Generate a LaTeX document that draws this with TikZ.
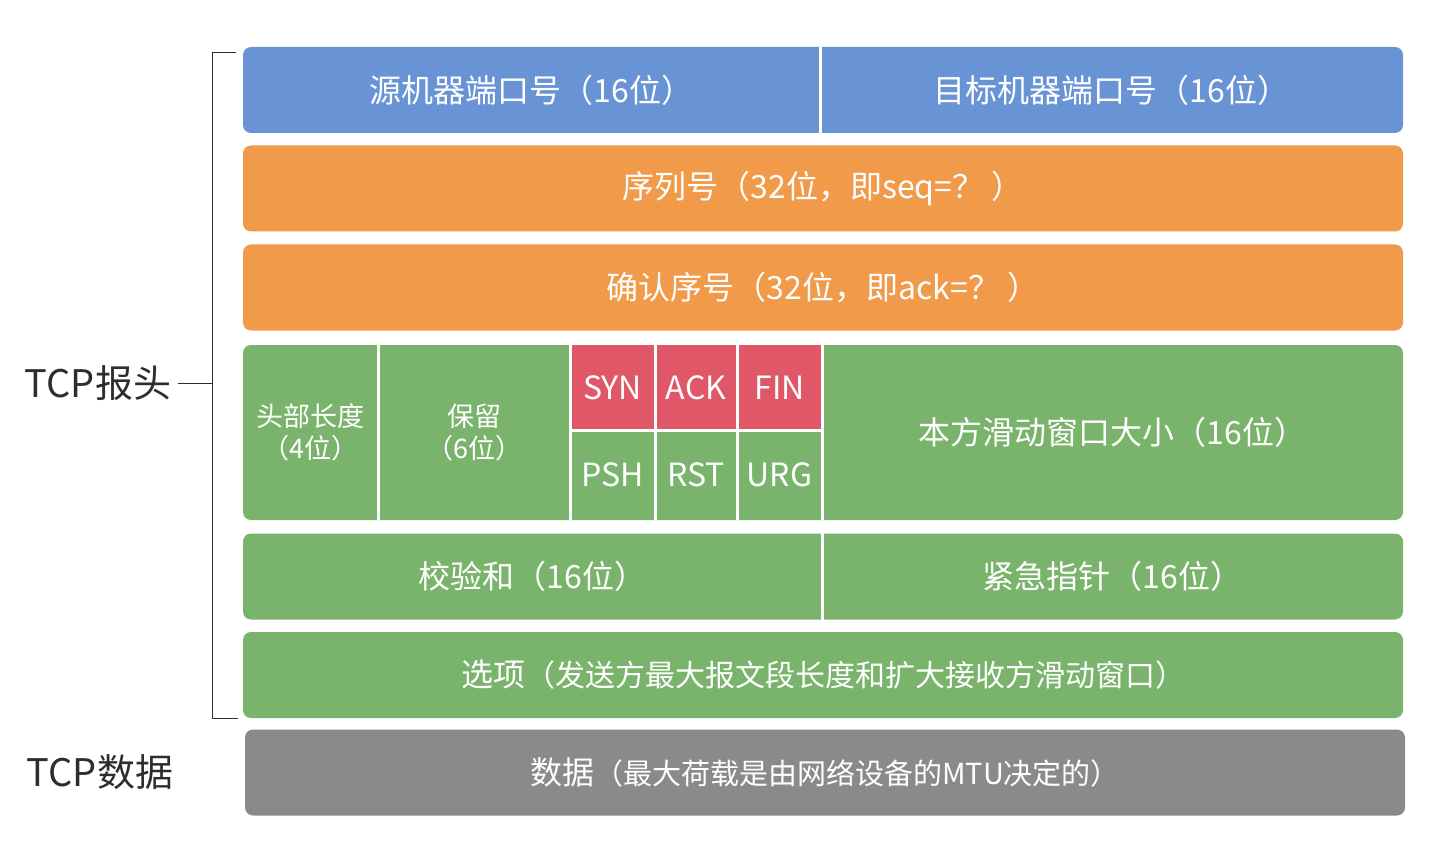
\documentclass[tikz,border=0pt]{standalone}
\usepackage{fontspec}
\setmainfont{Noto Sans CJK SC}
\usetikzlibrary{positioning,calc}
\definecolor{PortBlue}{RGB}{104,148,214}
\definecolor{SeqOrange}{RGB}{240,154,74}
\definecolor{CtrlGreen}{RGB}{122,180,108}
\definecolor{FlagRed}{RGB}{224,88,104}
\definecolor{DataGray}{RGB}{138,138,138}
\definecolor{LabelInk}{RGB}{45,45,45}

\tikzset{
  rowbox/.style={rounded corners=4pt, minimum width=580pt, minimum height=43pt, inner sep=0pt, text=white},
  cellbox/.style={inner sep=0pt, text=white, align=center},
  divider/.style={white, line width=1.2pt},
  brace/.style={LabelInk, line width=0.5pt},
  sidelabel/.style={text=LabelInk, font=\fontsize{19}{22}\selectfont}
}

\begin{document}
\begin{tikzpicture}[x=0.5pt, y=-0.5pt, font=\fontsize{16}{19}\selectfont]
\useasboundingbox (0,0) rectangle (1438,844);

% Ports
\node[rowbox, fill=PortBlue] (ports) at (823,90) {};
\node[cellbox, minimum width=288.5pt, minimum height=43pt] (src) at (531.5,90) {源机器端口号（16位）};
\node[cellbox, minimum width=291.5pt, minimum height=43pt] (dst) at (1111.5,90) {目标机器端口号（16位）};
\draw[divider] (src.north east) -- (src.south east);

% Sequence numbers
\node[rowbox, fill=SeqOrange] (seq) at (823,188.5) {序列号（32位，即seq=？ ）};
\node[rowbox, fill=SeqOrange] (ack) at (823,287.5) {确认序号（32位，即ack=？ ）};

% Header length, reserved, flags, window
\node[rowbox, fill=CtrlGreen, minimum height=87.5pt] (ctrl) at (823,432.5) {};
\node[cellbox, minimum width=67.5pt, minimum height=87.5pt, font=\fontsize{13.5}{16}\selectfont] (hlen) at (310.5,432.5) {头部长度\\（4位）};
\node[cellbox, minimum width=96pt, minimum height=87.5pt, font=\fontsize{13.5}{16}\selectfont] (resv) at (474,432.5) {保留\\（6位）};
\node[cellbox, fill=FlagRed, minimum width=42.5pt, minimum height=42.5pt] (syn) at (612.5,387.5) {SYN};
\node[cellbox, fill=FlagRed, minimum width=41pt, minimum height=42.5pt] (ackf) at (696,387.5) {ACK};
\node[cellbox, fill=FlagRed, minimum width=42.5pt, minimum height=42.5pt] (fin) at (779.5,387.5) {FIN};
\node[cellbox, minimum width=42.5pt, minimum height=45pt] (psh) at (612.5,475) {PSH};
\node[cellbox, minimum width=41pt, minimum height=45pt] (rst) at (696,475) {RST};
\node[cellbox, minimum width=42.5pt, minimum height=45pt] (urg) at (779.5,475) {URG};
\node[cellbox, minimum width=290.5pt, minimum height=87.5pt] (win) at (1112.5,432.5) {本方滑动窗口大小（16位）};
\draw[divider] (hlen.north east) -- (hlen.south east);
\draw[divider] (resv.north east) -- (resv.south east);
\draw[divider] (syn.north east) -- (psh.south east);
\draw[divider] (ackf.north east) -- (rst.south east);
\draw[divider] (fin.north east) -- (urg.south east);
\draw[divider] (syn.south west) -- (fin.south east);

% Checksum and urgent pointer
\node[rowbox, fill=CtrlGreen] (chkrow) at (823,576.5) {};
\node[cellbox, minimum width=289.5pt, minimum height=43pt] (chk) at (532.5,576.5) {校验和（16位）};
\node[cellbox, minimum width=290.5pt, minimum height=43pt] (urgp) at (1112.5,576.5) {紧急指针（16位）};
\draw[divider] (chk.north east) -- (chk.south east);

% Options
\node[rowbox, fill=CtrlGreen] (opts) at (823,675) {选项{\fontsize{15}{18}\selectfont（发送方最大报文段长度和扩大接收方滑动窗口）}};

% Data
\node[rowbox, fill=DataGray] (data) at (825,772.5) {数据{\fontsize{14.5}{17}\selectfont（最大荷载是由网络设备的MTU决定的）}};

% Side labels
\node[sidelabel] (hdr) at (98,383) {TCP报头};
\node[sidelabel] (pay) at (100,772) {TCP数据};
\coordinate (brkTop) at (236,53);
\coordinate (brkTL) at (212,53);
\coordinate (brkBL) at (212,718);
\coordinate (brkBot) at (238,718);
\draw[brace] (brkTop) -- (brkTL) -- (brkBL) -- (brkBot);
\draw[brace] (hdr.east) -- (hdr.east -| brkTL);
\end{tikzpicture}
\end{document}
